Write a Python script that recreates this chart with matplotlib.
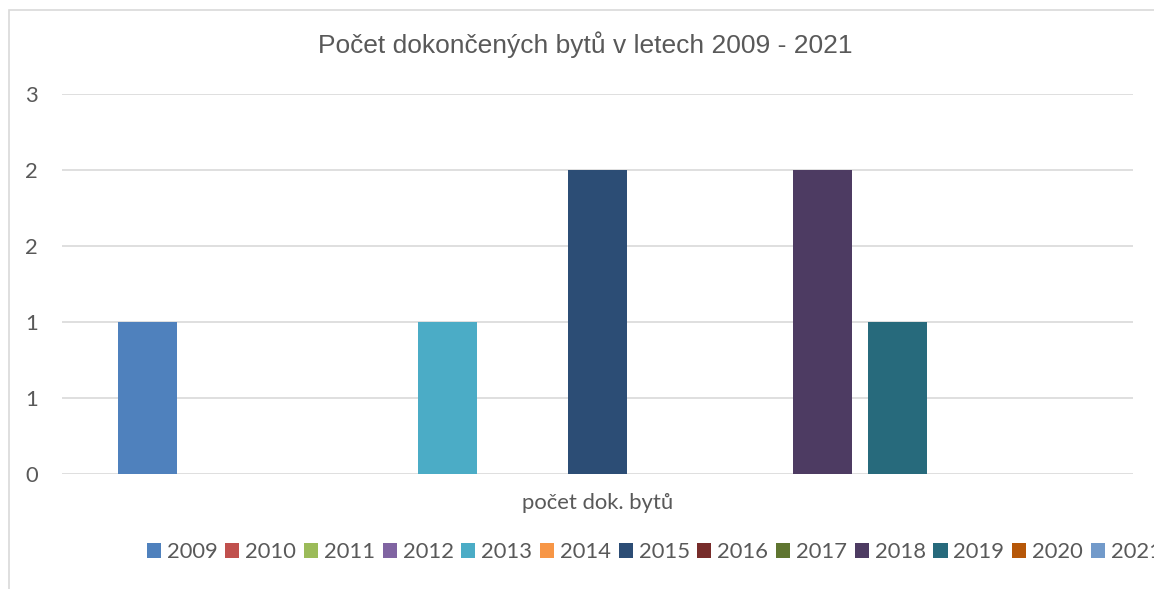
import matplotlib
matplotlib.use("Agg")
import matplotlib.pyplot as plt
from matplotlib.patches import Rectangle
from matplotlib.ticker import FixedLocator

years = ["2009", "2010", "2011", "2012", "2013", "2014", "2015",
         "2016", "2017", "2018", "2019", "2020", "2021"]
values = [1, 0, 0, 0, 1, 0, 2, 0, 0, 2, 1, 0, 0]
colors = ["#4F81BD", "#C0504D", "#9BBB59", "#8064A2", "#4BACC6", "#F79646",
          "#2C4D75", "#772C2A", "#5F7530", "#4D3B62", "#276A7C", "#B65708",
          "#729ACA"]
category = "počet dok. bytů"
title = "Počet dokončených bytů v letech 2009 - 2021"
ytick_vals = [0, 0.5, 1.0, 1.5, 2.0, 2.5]
ytick_labels = ["0", "1", "1", "2", "2", "3"]

W, H = 1154, 589
fig = plt.figure(figsize=(W / 100, H / 100), dpi=100)
fig.patch.set_facecolor("white")

# chart border
fig.add_artist(Rectangle((9 / W, -0.1), 1.2, 1 - 10 / H + 0.1,
                         transform=fig.transFigure, fill=False,
                         edgecolor="#D9D9D9", linewidth=1.2))

ax = fig.add_axes([62 / W, (H - 474) / H, (1133 - 62) / W, (474 - 94) / H])
text_color = "#595959"
grid_color = "#D9D9D9"
fs = 15.8

for i, (y, v, c) in enumerate(zip(years, values, colors)):
    ax.bar(i, v, width=59 / 75, color=c, label=y, zorder=3)

ax.set_xlim(-1.14, 13.14)
ax.set_ylim(0, 2.5)
ax.yaxis.set_major_locator(FixedLocator(ytick_vals))
ax.set_yticklabels(ytick_labels, fontfamily="Lato", fontsize=fs, color=text_color)
ax.set_xticks([6])
ax.set_xticklabels([category], fontfamily="Lato", fontsize=fs, color=text_color)
ax.tick_params(axis="both", length=0)
ax.tick_params(axis="y", pad=17.5)
ax.tick_params(axis="x", pad=14)
for s in ax.spines.values():
    s.set_visible(False)
ax.grid(axis="y", color=grid_color, linewidth=1.2, zorder=0)
ax.set_axisbelow(True)

fig.text(585 / W, 1 - 45 / H, title, ha="center", va="center",
         fontfamily="Liberation Sans", fontsize=19, color=text_color)

leg = fig.legend(loc="center left", bbox_to_anchor=(147 / W, 1 - 552 / H),
                 ncol=13, frameon=False, borderpad=0, borderaxespad=0,
                 handlelength=0.64, handleheight=0.64, handletextpad=0.27,
                 columnspacing=0.35,
                 prop={"family": "Lato", "size": fs})
for t in leg.get_texts():
    t.set_color(text_color)

fig.savefig("out.png", dpi=100)
